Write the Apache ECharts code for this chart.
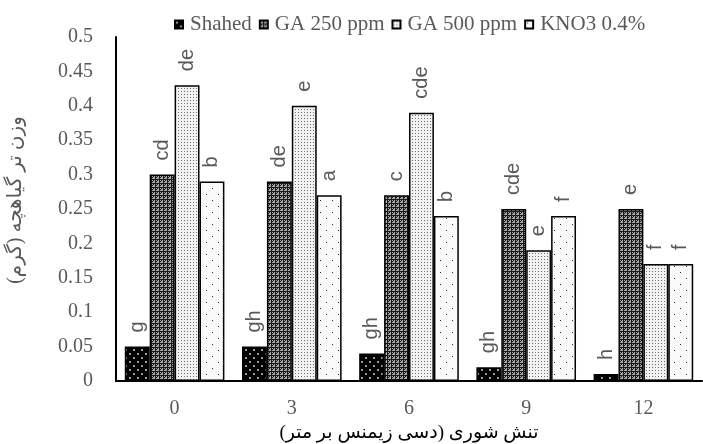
<!DOCTYPE html>
<html>
<head>
<meta charset="utf-8">
<script src="https://cdn.jsdelivr.net/npm/echarts@6/dist/echarts.min.js"></script>
<style>
html,body{margin:0;padding:0;background:#fff;}
#chart{width:703px;height:444px;}
</style>
</head>
<body>
<div id="chart"></div>
<script>
var categories = ['0', '3', '6', '9', '12'];
var seriesNames = ['Shahed', 'GA 250 ppm', 'GA 500 ppm', 'KNO3 0.4%'];
var shahed = [0.05, 0.05, 0.04, 0.02, 0.01];
var ga250 = [0.30, 0.29, 0.27, 0.25, 0.25];
var ga500 = [0.43, 0.40, 0.39, 0.19, 0.17];
var kno3 = [0.29, 0.27, 0.24, 0.24, 0.17];
var letShahed = ['g', 'gh', 'gh', 'gh', 'h'];
var letGa250 = ['cd', 'de', 'c', 'cde', 'e'];
var letGa500 = ['de', 'e', 'cde', 'e', 'f'];
var letKno3 = ['b', 'a', 'b', 'f', 'f'];

// small canvas tiles for the hatch fills
function tile(size, bg, fg, dots) {
    var c = document.createElement('canvas');
    c.width = size; c.height = size;
    var g = c.getContext('2d');
    g.fillStyle = bg;
    g.fillRect(0, 0, size, size);
    g.fillStyle = fg;
    dots.forEach(function (d) {
        g.fillRect(d[0], d[1], d[2] || 1, d[3] || 1);
    });
    return {image: c, repeat: 'repeat'};
}
var fillShahed = tile(8, '#000', '#9a9a9a', [[1, 1, 2, 2], [5, 5, 2, 2]]);
var fillGa250 = tile(4, '#1a1a1a', '#a8a8a8', [[0, 0, 1, 1], [2, 0, 1, 1], [1, 1, 2, 2], [0, 2, 1, 1], [2, 2, 1, 1]]);
var fillGa500 = tile(3, '#f2f2f2', '#707070', [[1, 1, 1, 1]]);
var fillKno3 = tile(12, '#fafafa', '#333', [[2, 2, 1, 1], [8, 8, 1, 1]]);

var chart = echarts.init(document.getElementById('chart'));

function mkSeries(name, values, letters, fill) {
    return {
        name: name,
        type: 'bar',
        barGap: '0%',
        barCategoryGap: '15%',
        data: values,
        itemStyle: {color: fill, borderColor: '#000', borderWidth: 1.5},
        label: {
            show: true,
            position: 'top',
            rotate: 90,
            align: 'left',
            verticalAlign: 'middle',
            distance: 14,
            color: '#595959',
            fontFamily: 'Liberation Sans',
            fontSize: 20,
            formatter: function (p) { return letters[p.dataIndex]; }
        }
    };
}

var option = {
    animation: false,
    backgroundColor: '#fff',
    legend: {
        top: 9,
        left: 169,
        icon: 'rect',
        itemWidth: 8,
        itemHeight: 8,
        itemGap: 7,
        textStyle: {fontFamily: 'Liberation Serif', fontSize: 21, color: '#595959', padding: [0, 0, 0, 2]},
        data: seriesNames
    },
    grid: {left: 116, right: 1, top: 37, bottom: 63, outerBoundsMode: 'none'},
    xAxis: {
        type: 'category',
        data: categories,
        name: 'تنش شوری (دسی زیمنس بر متر)',
        nameLocation: 'middle',
        nameGap: 38,
        nameTextStyle: {fontFamily: 'Liberation Serif, DejaVu Sans', fontSize: 19, color: '#000'},
        axisLine: {lineStyle: {color: '#000', width: 2}},
        axisTick: {show: false},
        axisLabel: {fontFamily: 'Liberation Serif', fontSize: 20, color: '#595959', margin: 18}
    },
    yAxis: {
        type: 'value',
        min: 0,
        max: 0.5,
        interval: 0.05,
        name: 'وزن تر گیاهچه (گرم)',
        nameLocation: 'middle',
        nameGap: 90,
        nameRotate: 90,
        nameTextStyle: {fontFamily: 'Liberation Serif, DejaVu Sans', fontSize: 20, color: '#595959', padding: [0, 0, 0, 18]},
        axisLine: {show: true, lineStyle: {color: '#000', width: 2}},
        axisTick: {show: false},
        splitLine: {show: false},
        axisLabel: {fontFamily: 'Liberation Serif', fontSize: 20, color: '#595959', margin: 23}
    },
    series: [
        mkSeries(seriesNames[0], shahed, letShahed, fillShahed),
        mkSeries(seriesNames[1], ga250, letGa250, fillGa250),
        mkSeries(seriesNames[2], ga500, letGa500, fillGa500),
        mkSeries(seriesNames[3], kno3, letKno3, fillKno3)
    ]
};
chart.setOption(option);
</script>
</body>
</html>
